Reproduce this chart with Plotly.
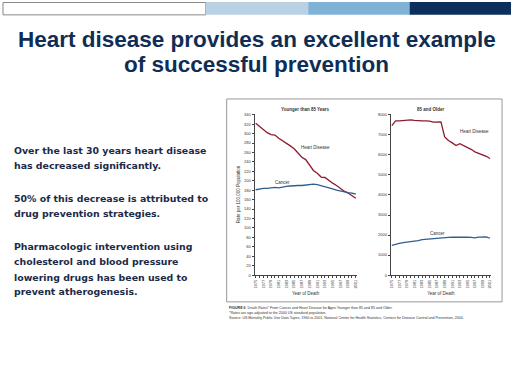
import plotly.graph_objects as go

years = list(range(1975, 2002))
heart_young = [322, 315, 307, 302, 298, 297, 290, 285, 280, 274, 268, 258, 250, 245,
               232, 222, 216, 208, 207, 200, 195, 190, 184, 178, 174, 168, 163]
cancer_young = [181, 183, 184, 184, 185, 186, 185, 187, 188, 189, 190, 190, 190, 191,
                192, 193, 192, 190, 188, 186, 183, 180, 178, 176, 175, 174, 172]
heart_old = [7460, 7700, 7700, 7710, 7730, 7750, 7720, 7700, 7700, 7700, 7690, 7640, 7640, 7650,
             6900, 6720, 6600, 6470, 6560, 6470, 6400, 6280, 6150, 6070, 6030, 5930, 5820]
cancer_old = [1490, 1550, 1580, 1620, 1640, 1670, 1680, 1720, 1770, 1790, 1800, 1820, 1850, 1860,
              1870, 1880, 1890, 1900, 1900, 1890, 1900, 1880, 1860, 1900, 1920, 1910, 1840]
year_ticks = list(range(1975, 2002, 2))
young_ticks = list(range(0, 341, 20))
old_ticks = list(range(0, 8001, 1000))

title_lines = ["Heart disease provides an excellent example", "of successful prevention"]
title_y = [38, 63]
body_lines = [
    "Over the last 30 years heart disease", "has decreased significantly.",
    "50% of this decrease is attributed to", "drug prevention strategies.",
    "Pharmacologic intervention using", "cholesterol and blood pressure",
    "lowering drugs has been used to", "prevent atherogenesis."]
body_y = [150, 165, 199, 214, 247, 262, 278, 293]
caption_lines = [
    "<b>FIGURE 6</b>  Death Rates* From Cancer and Heart Disease for Ages Younger than 85 and 85 and Older.",
    "*Rates are age-adjusted to the 2000 US standard population.",
    "Source: US Mortality Public Use Data Tapes, 1960 to 2001, National Center for Health Statistics, Centers for Disease Control and Prevention, 2004."]

W, H = 512, 384
def px(x): return x / W
def py(y): return 1 - y / H

RED = "#8e1b2e"
BLUE = "#2f5f8f"
NAVY = "#0f2d55"

fig = go.Figure()
fig.add_trace(go.Scatter(x=years, y=heart_young, mode="lines", line=dict(color=RED, width=1.3),
                         xaxis="x", yaxis="y", showlegend=False))
fig.add_trace(go.Scatter(x=years, y=cancer_young, mode="lines", line=dict(color=BLUE, width=1.3),
                         xaxis="x", yaxis="y", showlegend=False))
fig.add_trace(go.Scatter(x=years, y=heart_old, mode="lines", line=dict(color=RED, width=1.3),
                         xaxis="x2", yaxis="y2", showlegend=False))
fig.add_trace(go.Scatter(x=years, y=cancer_old, mode="lines", line=dict(color=BLUE, width=1.3),
                         xaxis="x2", yaxis="y2", showlegend=False))

tickfont = dict(size=4, color="#333", family="Liberation Sans")
xcommon = dict(range=[1974.7, 2001.3], tickvals=year_ticks, tickangle=-90, tickfont=tickfont,
               showline=True, linecolor="#444", linewidth=1, ticks="outside", ticklen=2,
               tickcolor="#444", showgrid=False, zeroline=False,
               minor=dict(dtick=1, ticks="outside", ticklen=1.5, tickcolor="#444"),
               title=dict(text="Year of Death", font=dict(size=4.5, color="#333", family="Liberation Sans"), standoff=4))
ycommon = dict(showline=True, linecolor="#444", linewidth=1, ticks="outside", ticklen=2,
               tickcolor="#444", showgrid=False, zeroline=False, tickfont=tickfont)

fig.update_layout(
    width=W, height=H, margin=dict(l=0, r=0, t=0, b=0),
    paper_bgcolor="white", plot_bgcolor="white",
    xaxis=dict(domain=[px(254), px(357)], anchor="y", **xcommon),
    yaxis=dict(domain=[py(276), py(113)], range=[0, 342], tickvals=young_ticks, anchor="x",
               title=dict(text="Rate per 100,000 Population", font=dict(size=4.5, color="#333", family="Liberation Sans"), standoff=3),
               **ycommon),
    xaxis2=dict(domain=[px(391), px(492)], anchor="y2", **xcommon),
    yaxis2=dict(domain=[py(276), py(113)], range=[0, 8050], tickvals=old_ticks, anchor="x2", **ycommon),
)

shapes = [
    dict(type="rect", xref="paper", yref="paper", x0=px(1), x1=px(205), y0=py(13), y1=py(0.5),
         fillcolor="white", line=dict(color="#888", width=1)),
    dict(type="rect", xref="paper", yref="paper", x0=px(205), x1=px(308), y0=py(13), y1=py(0),
         fillcolor="#b9d1e3", line=dict(width=0)),
    dict(type="rect", xref="paper", yref="paper", x0=px(308), x1=px(410), y0=py(13), y1=py(0),
         fillcolor="#80b2d6", line=dict(width=0)),
    dict(type="rect", xref="paper", yref="paper", x0=px(410), x1=px(512), y0=py(13), y1=py(0),
         fillcolor="#0c2f5c", line=dict(width=0)),
    dict(type="rect", xref="paper", yref="paper", x0=px(226), x1=px(503), y0=py(303), y1=py(98),
         fillcolor="rgba(0,0,0,0)", line=dict(color="#999", width=1), layer="below"),
]
fig.update_layout(shapes=shapes)

ann = []
for t, yy in zip(title_lines, title_y):
    ann.append(dict(text="<b>%s</b>" % t, x=px(256), y=py(yy), xref="paper", yref="paper",
                    showarrow=False, xanchor="center", yanchor="middle",
                    font=dict(size=22.5, color=NAVY, family="Liberation Sans")))
for t, yy in zip(body_lines, body_y):
    ann.append(dict(text="<b>%s</b>" % t, x=px(10), y=py(yy), xref="paper", yref="paper",
                    showarrow=False, xanchor="left", yanchor="middle",
                    font=dict(size=9.4, color="#1b2a48", family="DejaVu Sans")))
for i, t in enumerate(caption_lines):
    ann.append(dict(text=t, x=px(226), y=py(309 + i * 5), xref="paper", yref="paper",
                    showarrow=False, xanchor="left", yanchor="middle",
                    font=dict(size=3.6, color="#333", family="Liberation Sans")))
small = dict(size=4.5, color="#333", family="Liberation Sans")
ann += [
    dict(text="<b>Younger than 85 Years</b>", x=px(305), y=py(104), xref="paper", yref="paper",
         showarrow=False, font=small),
    dict(text="<b>85 and Older</b>", x=px(448), y=py(104), xref="paper", yref="paper",
         showarrow=False, font=small),
    dict(text="Heart Disease", x=1990.5, y=270, xref="x", yref="y", showarrow=False, font=small),
    dict(text="Cancer", x=1982, y=197, xref="x", yref="y", showarrow=False, font=small),
    dict(text="Heart Disease", x=1997, y=7150, xref="x2", yref="y2", showarrow=False, font=small),
    dict(text="Cancer", x=1987, y=2080, xref="x2", yref="y2", showarrow=False, font=small),
]
fig.update_layout(annotations=ann)

fig.write_html("out.html", config={"displayModeBar": False},
               post_script="document.body.style.margin='0';document.body.style.overflow='hidden';")
